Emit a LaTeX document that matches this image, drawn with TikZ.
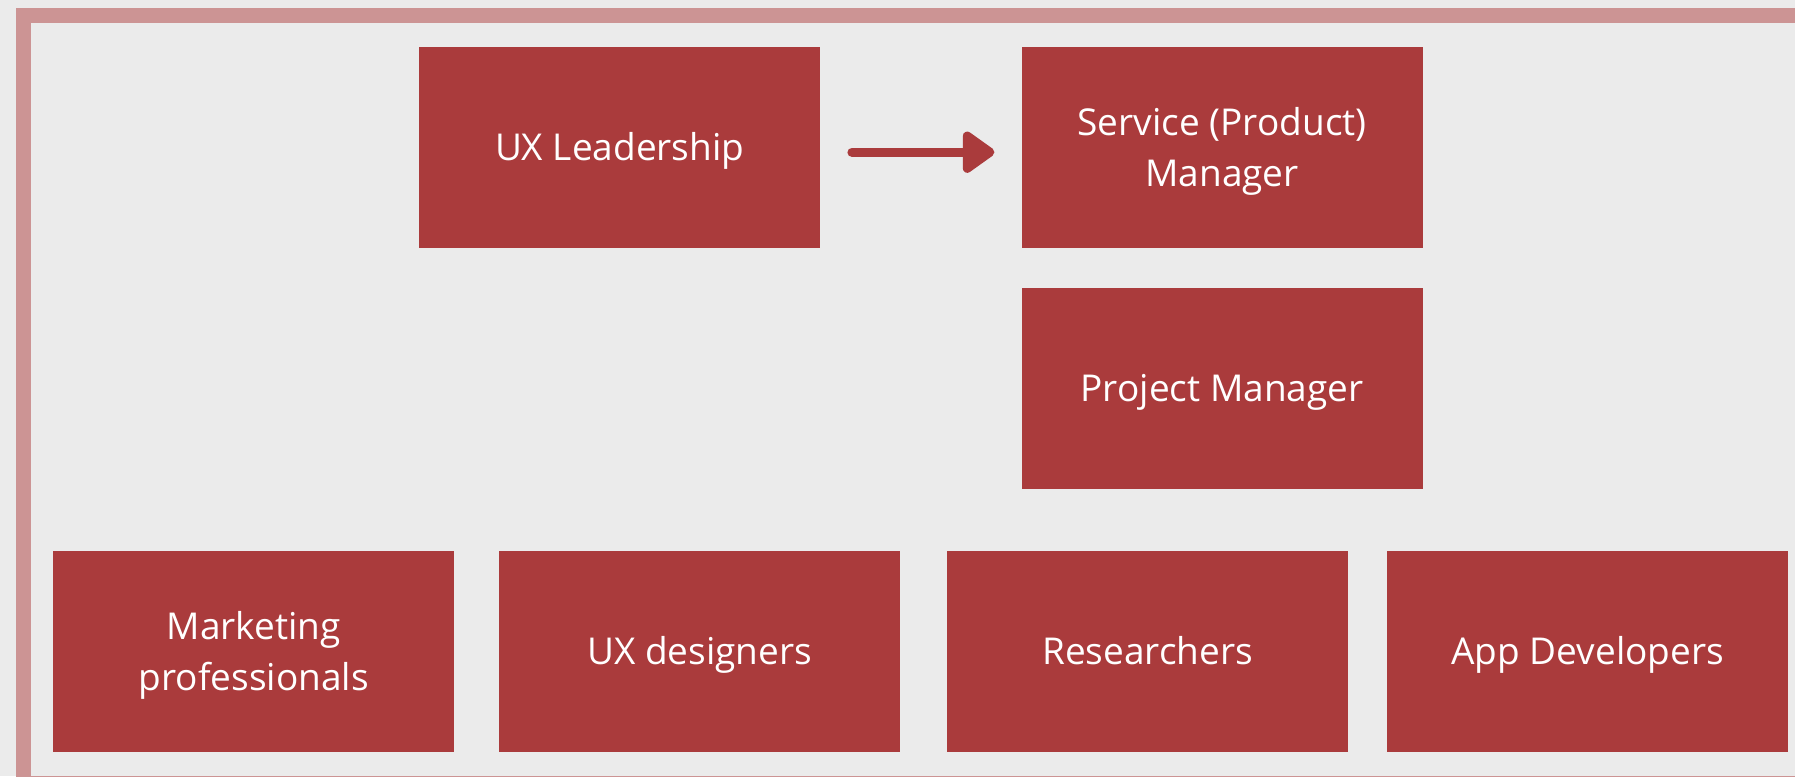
\documentclass[tikz,border=0pt]{standalone}
\usepackage{fontspec}
\setmainfont{Open Sans}
\usepackage{tikz}
\usetikzlibrary{positioning,arrows.meta}
\definecolor{boxred}{HTML}{AA3B3C}
\definecolor{framerose}{HTML}{CC9494}
\definecolor{paper}{HTML}{EBEBEB}
\tikzset{
  % fixed ascent/descent so every line sits at the same height
  rolebox/.style={rectangle, fill=boxred, text=white, inner sep=0pt,
                  minimum width=401pt, minimum height=201pt, align=center,
                  font=\fontsize{37}{51.5}\selectfont,
                  text height=39pt, text depth=12.5pt},
  twoline/.style={text height=90.5pt},
  reports/.style={-{Triangle[length=35pt, width=47pt, round]}, line width=9pt,
                  line cap=round, boxred},
}
\begin{document}
\begin{tikzpicture}[x=1pt, y=-1pt]
  \useasboundingbox (0,0) rectangle (1795,776);
  \fill[paper] (0,0) rectangle (1795,776);
  \clip (0,0) rectangle (1795,776);
  % outer frame, cut by the page on the right and bottom
  \draw[framerose, line width=15pt] (23.5,15.5) rectangle (1815,783.5);

  \node[rolebox, anchor=north west] (lead) at (419,47) {UX Leadership};
  \node[rolebox, twoline] (service) [right=201pt of lead] {Service (Product)\\Manager};
  \node[rolebox] (project) [below=39.5pt of service] {Project Manager};

  \node[rolebox, twoline, anchor=north west] (market) at (53,551) {Marketing\\professionals};
  \node[rolebox, anchor=north west] (design) at (499,551) {UX designers};
  \node[rolebox, anchor=north west] (research) at (947,551) {Researchers};
  \node[rolebox, anchor=north west] (devs) at (1387,551) {App Developers};

  \draw[reports, shorten <=31.5pt, shorten >=27pt]
    ([yshift=-4.5pt]lead.east) -- ([yshift=-4.5pt]service.west);
\end{tikzpicture}
\end{document}
